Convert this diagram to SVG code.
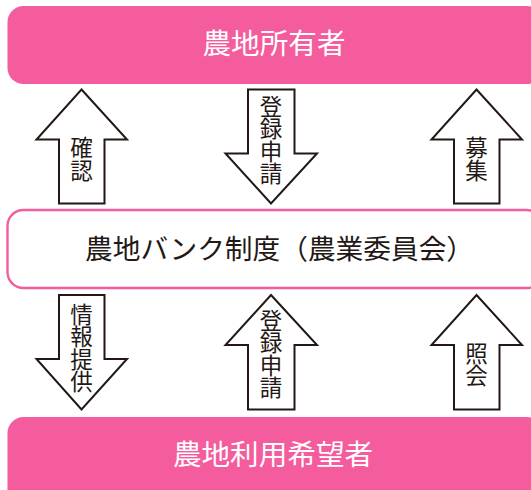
<svg xmlns="http://www.w3.org/2000/svg" width="531" height="490" viewBox="0 0 531 490">
<style>
text{font-family:"Noto Sans CJK JP","Noto Sans",sans-serif}
.solid{fill:#f45c9d}
.title{fill:#fff;font-size:28.6px;text-anchor:middle}
.mid{fill:#231815;font-size:27.7px;text-anchor:start}
.arrow{fill:#fff;stroke:#231815;stroke-width:2}
.lab{fill:#231815;font-size:22.5px;writing-mode:vertical-rl;text-orientation:upright;text-anchor:start}
</style>
<rect width="531" height="490" fill="#fff"/>
<g id="node-owner"><rect class="solid" x="7.5" y="6" width="535" height="78" rx="16"/><text class="title" x="274" y="54">農地所有者</text></g>
<g id="node-bank"><rect x="7.5" y="210" width="535" height="78" rx="16" fill="#fff" stroke="#f45c9d" stroke-width="2.4"/><text class="mid" x="85" y="258.500">農地バンク制度（農業委員会）</text></g>
<g id="node-applicant"><rect class="solid" x="7.5" y="417" width="535" height="90" rx="16"/><text class="title" x="273" y="465">農地利用希望者</text></g>
<g id="connectors">
<path class="arrow" d="M81.5 89.5L127 139.5H104.5V203.5H59V139.5H36.5Z"/>
<path class="arrow" d="M248 89.500H294.500V153.500H317L271 203.500L225.500 153.500H248Z"/>
<path class="arrow" d="M476.500 89.500L522 139.500H499.500V203.500H454V139.500H431.500Z"/>
<path class="arrow" d="M59 295H104.500V359H127L81.500 409.500L36.500 359H59Z"/>
<path class="arrow" d="M271 295L317 345H294.500V409.500H248V345H225.500Z"/>
<path class="arrow" d="M476.500 295L522 345H499.500V409.500H454V345H431.500Z"/>
<text class="lab" x="81.500" y="136.500">確認</text>
<text class="lab" x="271" y="95">登録申請</text>
<text class="lab" x="476.500" y="136.500">募集</text>
<text class="lab" x="81.500" y="303">情報提供</text>
<text class="lab" x="271" y="309">登録申請</text>
<text class="lab" x="476.500" y="342">照会</text>
</g>
</svg>
